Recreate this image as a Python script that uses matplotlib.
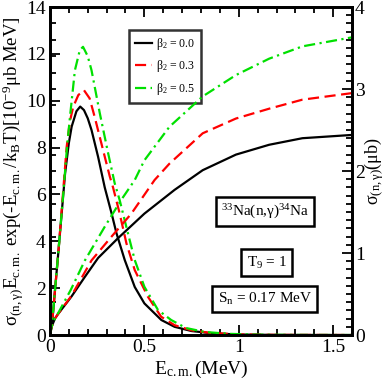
import matplotlib
matplotlib.use("Agg")
import matplotlib.pyplot as plt
from matplotlib.ticker import MultipleLocator
import numpy as np

plt.rcParams['font.family'] = ['Liberation Serif', 'DejaVu Serif']
plt.rcParams['mathtext.fontset'] = 'custom'
plt.rcParams['mathtext.rm'] = 'Liberation Serif'
plt.rcParams['mathtext.it'] = 'Liberation Serif'
plt.rcParams['mathtext.default'] = 'regular'

# Maxwellian-weighted curves, left axis [10^-9 ub MeV]
e_b0 = [0, 0.01, 0.045, 0.08, 0.1, 0.115, 0.14, 0.16, 0.18, 0.2, 0.22, 0.255, 0.29, 0.326, 0.352,
        0.396, 0.449, 0.5, 0.59, 0.66, 0.75, 0.85, 1.0, 1.2, 1.6]
m_b0 = [0, 0.4, 3.6, 6.9, 8.2, 8.9, 9.55, 9.75, 9.6, 9.25, 8.75, 7.6, 6.3, 5.2, 4.35,
        3.2, 2.05, 1.35, 0.64, 0.35, 0.17, 0.08, 0.02, 0.005, 0]
e_b3 = [0, 0.01, 0.045, 0.088, 0.105, 0.123, 0.15, 0.18, 0.21, 0.237, 0.281, 0.317, 0.334,
        0.369, 0.405, 0.449, 0.519, 0.589, 0.66, 0.75, 0.85, 1.0, 1.2, 1.6]
m_b3 = [0, 0.4, 3.6, 8.0, 9.1, 9.74, 10.24, 10.45, 10.1, 9.3, 7.9, 6.76, 6.3,
        5.19, 3.91, 2.77, 1.63, 0.78, 0.42, 0.2, 0.09, 0.025, 0.006, 0]
e_b5 = [0, 0.01, 0.045, 0.07, 0.09, 0.106, 0.132, 0.158, 0.175, 0.2, 0.22, 0.264, 0.308, 0.343,
        0.369, 0.413, 0.449, 0.5, 0.572, 0.642, 0.72, 0.82, 0.95, 1.1, 1.3, 1.6]
m_b5 = [0, 0.4, 3.6, 6.0, 8.0, 9.32, 11.3, 12.16, 12.3, 11.9, 11.3, 9.46, 7.76, 6.47,
        5.76, 4.34, 3.2, 2.06, 1.07, 0.64, 0.3, 0.13, 0.05, 0.015, 0.004, 0]

# cross sections, right axis [ub]
e_s0 = [0, 0.005, 0.026, 0.044, 0.114, 0.185, 0.255, 0.36, 0.5, 0.66, 0.809,
        0.985, 1.161, 1.337, 1.6]
s_b0 = [0, 0.08, 0.2, 0.26, 0.47, 0.71, 0.94, 1.18, 1.48, 1.77, 2.01,
        2.2, 2.32, 2.40, 2.44]
e_s3 = [0, 0.005, 0.026, 0.044, 0.114, 0.22, 0.326, 0.431, 0.554, 0.633, 0.809,
        0.985, 1.161, 1.337, 1.6]
s_b3 = [0, 0.08, 0.2, 0.26, 0.48, 0.91, 1.2, 1.48, 1.89, 2.09, 2.46,
        2.64, 2.76, 2.87, 2.95]
e_s5 = [0, 0.005, 0.026, 0.044, 0.11, 0.185, 0.29, 0.378, 0.449, 0.5, 0.633, 0.809,
        0.985, 1.161, 1.337, 1.6]
s_b5 = [0, 0.08, 0.2, 0.27, 0.55, 0.91, 1.32, 1.65, 1.89, 2.13, 2.54, 2.91,
        3.17, 3.37, 3.52, 3.63]

labels = [r'$\beta_2$ = 0.0', r'$\beta_2$ = 0.3', r'$\beta_2$ = 0.5']
colors = ['black', 'red', '#00e000']
styles = ['-', (0, (5, 2.5)), (0, (5, 2, 1, 2))]

fig = plt.figure(figsize=(3.86, 3.83), dpi=100)
ax = fig.add_axes([0.1295, 0.1253, 0.7825, 0.8564])
ax2 = ax.twinx()

mx = [(e_b0, m_b0), (e_b3, m_b3), (e_b5, m_b5)]
sx = [(e_s0, s_b0), (e_s3, s_b3), (e_s5, s_b5)]
for i in range(3):
    ax.plot(mx[i][0], mx[i][1], color=colors[i], ls=styles[i], lw=1.6, label=labels[i])
    ax2.plot(sx[i][0], sx[i][1], color=colors[i], ls=styles[i], lw=1.6)

ax.set_xlim(0, 1.6)
ax.set_ylim(0, 14)
ax2.set_ylim(0, 4)
ax.xaxis.set_minor_locator(MultipleLocator(0.1))
ax.yaxis.set_major_locator(MultipleLocator(2))
ax.yaxis.set_minor_locator(MultipleLocator(0.7))
ax2.yaxis.set_major_locator(MultipleLocator(1))
ax2.yaxis.set_minor_locator(MultipleLocator(0.1))
ax.set_xticks([0, 0.5, 1, 1.5])
ax.set_xticklabels(['0', '0.5', '1', '1.5'])

for a in (ax, ax2):
    a.tick_params(which='both', direction='in', labelsize=14, width=1.3)
    a.tick_params(which='major', length=7, pad=3)
    a.tick_params(which='minor', length=4)
    for s in a.spines.values():
        s.set_linewidth(2)
ax.tick_params(which='both', top=True)
ax2.tick_params(which='major', pad=2)

ax.set_xlabel(r'E$_{c.m.}$(MeV)', fontsize=14, labelpad=2)
ax.set_ylabel(r'$\sigma_{(n,\gamma)}$E$_{c.m.}$ exp(-E$_{c.m.}$/k$_B$T)[10$^{-9}$$\mu$b MeV]',
              fontsize=13.5, labelpad=1)
ax2.set_ylabel(r'$\sigma_{(n,\gamma)}$($\mu$b)', fontsize=13, labelpad=-1)

leg = ax.legend(loc='upper left', bbox_to_anchor=(0.262, 0.93), fontsize=8.5, frameon=True,
                fancybox=False, handlelength=1.4, borderpad=0.5, labelspacing=0.55,
                handletextpad=0.4, borderaxespad=0)
leg.get_frame().set_edgecolor('black')
leg.get_frame().set_linewidth(1.8)

box = dict(boxstyle='square,pad=0.35', fc='white', ec='black', lw=1.8)
ax.text(0.712, 0.376, r'$^{33}$Na(n,$\gamma$)$^{34}$Na', transform=ax.transAxes, fontsize=11,
        ha='center', va='center', bbox=box)
ax.text(0.718, 0.221, r'T$_9$ = 1', transform=ax.transAxes, fontsize=11,
        ha='center', va='center', bbox=box)
ax.text(0.711, 0.11, r'S$_n$ = 0.17 MeV', transform=ax.transAxes, fontsize=11,
        ha='center', va='center', bbox=box)

fig.savefig('out.png', dpi=100)
